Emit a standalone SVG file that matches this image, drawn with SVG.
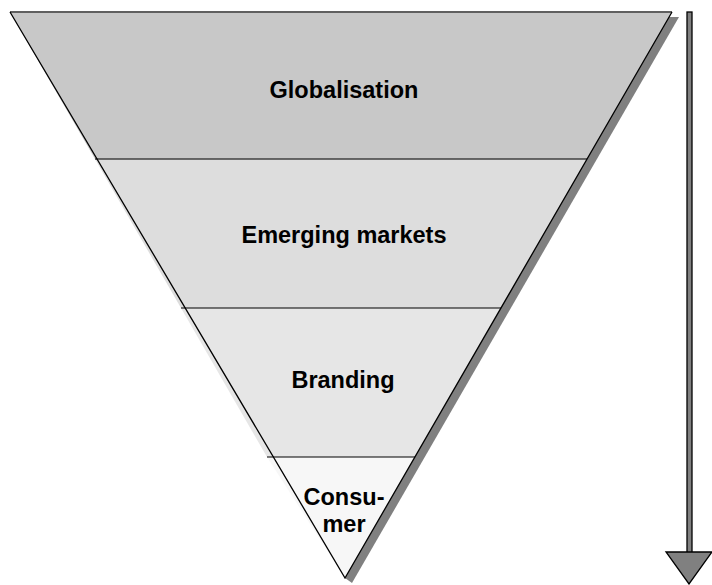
<svg xmlns="http://www.w3.org/2000/svg" width="712" height="585" viewBox="0 0 712 585">
<style>
.lbl{font-family:"Liberation Sans",Arial,sans-serif;font-weight:bold;font-size:23.5px;fill:#000;text-anchor:middle}
.band{stroke:none}
.edge{stroke:#000;stroke-width:1.3;fill:none}
</style>
<rect width="712" height="585" fill="#fff"/>
<polygon points="669,17 679,17 352,583 345,578" fill="#808080"/>
<g id="globalisation">
<polygon class="band" points="10,12 672,12 587,159 95,159" fill="#c8c8c8"/>
<text class="lbl" x="344" y="98">Globalisation</text>
</g>
<g id="emerging-markets">
<polygon class="band" points="95,159 587,159 501,308 181,308" fill="#dddddd"/>
<text class="lbl" x="344" y="243">Emerging markets</text>
</g>
<g id="branding">
<polygon class="band" points="181,308 501,308 415,457 267,457" fill="#e6e6e6"/>
<text class="lbl" x="343" y="388">Branding</text>
</g>
<g id="consumer">
<polygon class="band" points="267,457 415,457 345,578" fill="#f7f7f7"/>
<text class="lbl" x="344" y="505">Consu-</text>
<text class="lbl" x="344" y="532">mer</text>
</g>
<g id="connectors">
<line x1="10" y1="12" x2="672" y2="12" stroke="#606060" stroke-width="2"/>
<line x1="95" y1="159" x2="587" y2="159" stroke="#404040" stroke-width="1.5"/>
<line x1="181" y1="308" x2="501" y2="308" stroke="#000" stroke-width="1.2"/>
<line x1="267" y1="457" x2="415" y2="457" stroke="#000" stroke-width="1.2"/>
<polyline class="edge" points="10,12 345,578 672,12"/>
<rect x="687" y="12" width="5" height="541" fill="#808080" stroke="#000" stroke-width="1.3"/>
<polygon points="666,552 712,552 689,584" fill="#808080" stroke="#000" stroke-width="1.3"/>
</g>
</svg>
